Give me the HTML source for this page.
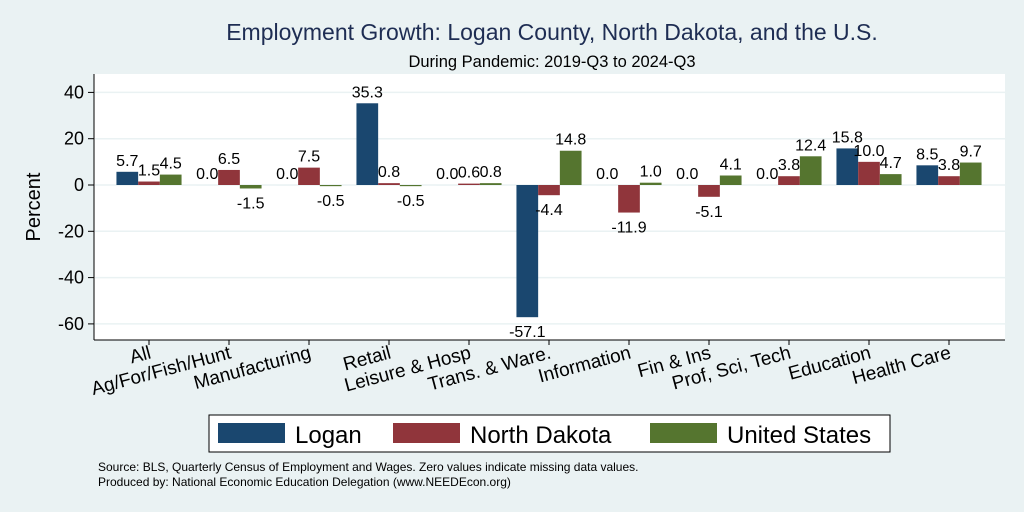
<!DOCTYPE html>
<html><head><meta charset="utf-8"><style>
body{margin:0;background:#eaf2f3;}
svg{display:block;font-family:"Liberation Sans",sans-serif;}
</style></head><body>
<svg id="chart" width="1024" height="512" xmlns="http://www.w3.org/2000/svg">
<rect width="1024" height="512" fill="#eaf2f3"/>
<text x="552" y="40" text-anchor="middle" font-size="23" fill="#1e2d53">Employment Growth: Logan County, North Dakota, and the U.S.</text>
<text x="552" y="67" text-anchor="middle" font-size="16.5" fill="#000">During Pandemic: 2019-Q3 to 2024-Q3</text>
<rect x="94" y="74" width="911" height="266" fill="#fff"/>
<g id="grid"></g>
<g id="bars"></g>
<g id="labels"></g>
<line x1="94" y1="74" x2="94" y2="340" stroke="#000" stroke-width="1"/>
<line x1="94" y1="340" x2="1005" y2="340" stroke="#000" stroke-width="1"/>
<g id="yticks"></g>
<g id="xticks"></g>
<text transform="translate(40,207) rotate(-90)" text-anchor="middle" font-size="20">Percent</text>
<g>
<rect x="209" y="415" width="681" height="37" fill="#fff" stroke="#000" stroke-width="1"/>
<rect x="218" y="423" width="67" height="20" fill="#1a476f"/>
<text x="295" y="443" font-size="24">Logan</text>
<rect x="393" y="423" width="67" height="20" fill="#90353b"/>
<text x="470" y="443" font-size="24">North Dakota</text>
<rect x="650" y="423" width="67" height="20" fill="#55752f"/>
<text x="727" y="443" font-size="24">United States</text>
</g>
<text x="98" y="471" font-size="12">Source: BLS, Quarterly Census of Employment and Wages. Zero values indicate missing data values.</text>
<text x="98" y="486" font-size="12">Produced by: National Economic Education Delegation (www.NEEDEcon.org)</text>
</svg>
<script>
const categories=["All","Ag/For/Fish/Hunt","Manufacturing","Retail","Leisure & Hosp","Trans. & Ware.","Information","Fin & Ins","Prof, Sci, Tech","Education","Health Care"];
const logan=[5.7,0.0,0.0,35.3,0.0,-57.1,0.0,0.0,0.0,15.8,8.5];
const northDakota=[1.5,6.5,7.5,0.8,0.6,-4.4,-11.9,-5.1,3.8,10.0,3.8];
const unitedStates=[4.5,-1.5,-0.5,-0.5,0.8,14.8,1.0,4.1,12.4,4.7,9.7];
const yTicks=[-60,-40,-20,0,20,40];
const seriesNames=["logan","north-dakota","united-states"];
const NS="http://www.w3.org/2000/svg";
function y(v){return 185-v*2.315;}
function xc(i){return 149+i*80;}
const barW=21.7;
const colors=["#1a476f","#90353b","#55752f"];
function mk(tag,attrs,parent){const e=document.createElementNS(NS,tag);for(const k in attrs)e.setAttribute(k,attrs[k]);document.getElementById(parent).appendChild(e);return e;}
yTicks.forEach(t=>{
  const g=mk("line",{x1:95,x2:1005,y1:y(t),y2:y(t),stroke:"#eaf2f3","stroke-width":1.5},"grid");
  
  
  const tk=mk("line",{x1:88,x2:94,y1:y(t),y2:y(t),stroke:"#000"},"yticks");
  
  
  const tl=mk("text",{x:84,y:y(t)+6,"text-anchor":"end","font-size":18},"yticks");
  tl.textContent=t;
  
  
});
[logan,northDakota,unitedStates].forEach((arr,s)=>{
  arr.forEach((v,i)=>{
    const x=xc(i)+(s-1)*barW-barW/2;
    const r=mk("rect",{x:x,y:Math.min(y(v),y(0)),width:barW,height:Math.max(Math.abs(y(v)-y(0)),0.01),fill:colors[s]},"bars");
    
    
    const l=mk("text",{x:x+barW/2,y:v>=0?y(v)-6:y(v)+20,"text-anchor":"middle","font-size":16},"labels");
    l.textContent=v.toFixed(1);
    
    
  });
});
categories.forEach((c,i)=>{
  const tk=mk("line",{x1:xc(i),x2:xc(i),y1:340,y2:345,stroke:"#000"},"xticks");
  
  
  const t=mk("text",{transform:"translate("+(xc(i)+3)+",(358)".replace("(358)","358")+") rotate(-15)","text-anchor":"end","font-size":19},"xticks");
  t.textContent=c;
  
  
});
</script>
</body></html>
